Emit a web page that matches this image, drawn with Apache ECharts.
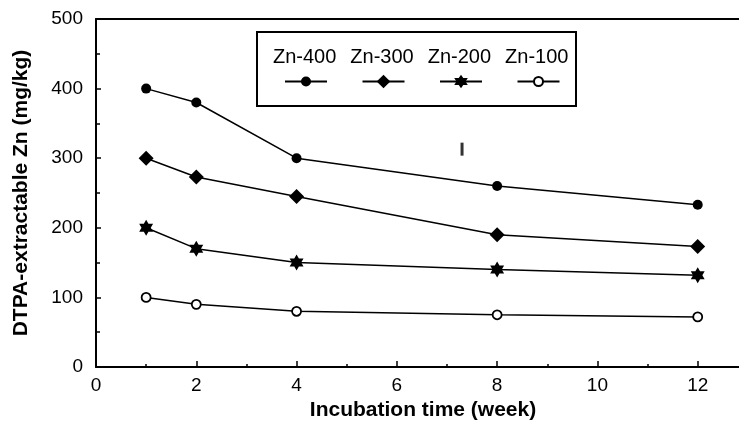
<!DOCTYPE html>
<html>
<head>
<meta charset="utf-8">
<script src="https://cdn.jsdelivr.net/npm/echarts@6.0.0/dist/echarts.min.js"></script>
<style>
  html, body { margin: 0; padding: 0; background: #fff; }
  #chart { width: 739px; height: 421px; }
</style>
</head>
<body>
<div id="chart"></div>
<script>
// incubation weeks (x) and DTPA-extractable Zn (mg/kg) per treatment
var weeks = [1, 2, 4, 8, 12];
var zn400 = [400, 380, 300, 260, 233];
var zn300 = [300, 273, 245, 190, 173];
var zn200 = [200, 170, 150, 140, 132];
var zn100 = [100, 90, 80, 75, 72];
var seriesNames = ["Zn-400", "Zn-300", "Zn-200", "Zn-100"];
// stray vertical mark in the plot area
var strayMark = [[7.3, 313]];

var FONT = "'Liberation Sans', Arial, sans-serif";
var starPath = "path://M100 0 L129 50 L187 50 L158 100 L187 150 L129 150 L100 200 L71 150 L13 150 L42 100 L13 50 L71 50 Z";
// circles padded with empty moves so the legend icon comes out smaller
var dotPath = "path://M0 0 M136 136 M18 68 A50 50 0 1 0 118 68 A50 50 0 1 0 18 68 Z";
var ringPath = "path://M0 0 M151 151 M25.5 75.5 A50 50 0 1 0 125.5 75.5 A50 50 0 1 0 25.5 75.5 Z";

function pairs(ys) {
  return weeks.map(function (w, i) { return [w, ys[i]]; });
}

function lineSeries(name, ys, symbol, size, hollow) {
  return {
    name: name,
    type: "line",
    data: pairs(ys),
    symbol: symbol,
    symbolSize: size,
    symbolKeepAspect: true,
    lineStyle: { color: "#000", width: 1.5 },
    itemStyle: hollow
      ? { color: "#fff", borderColor: "#000", borderWidth: 1.8 }
      : { color: "#000", borderColor: "#000", borderWidth: 0 },
    emphasis: { disabled: true },
    animation: false
  };
}

var chart = echarts.init(document.getElementById("chart"));
chart.setOption({
  backgroundColor: "#fff",
  animation: false,
  textStyle: { fontFamily: FONT },
  grid: { left: 96, right: -59, top: 19, bottom: 54, outerBoundsMode: "none", containLabel: false },
  graphic: [{
    type: "rect",
    shape: { x: 257, y: 32, width: 319, height: 74 },
    style: { fill: "none", stroke: "#000", lineWidth: 2 },
    z: 10
  }],
  legend: [{
    data: seriesNames,
    left: 284,
    top: 73,
    padding: 0,
    itemWidth: 42,
    itemHeight: 17,
    itemGap: 33.5,
    selectedMode: false,
    formatter: function () { return ""; },
    textStyle: { fontSize: 1 }
  }, {
    data: seriesNames,
    icon: "none",
    left: 268,
    top: 47,
    padding: 0,
    itemWidth: 0,
    itemHeight: 0,
    itemGap: 9,
    selectedMode: false,
    textStyle: { fontSize: 20, color: "#000", fontFamily: FONT }
  }],
  xAxis: [{
    type: "value",
    min: 0,
    max: 14,
    interval: 2,
    name: "Incubation time (week)",
    nameLocation: "middle",
    nameGap: 33,
    nameTextStyle: { fontSize: 21, fontWeight: "bold", color: "#000", fontFamily: FONT, padding: [0, 48, 0, 0] },
    axisLine: { lineStyle: { color: "#000", width: 2 } },
    axisTick: { inside: true, length: 6, lineStyle: { color: "#000", width: 1.5 } },
    minorTick: { show: true, splitNumber: 2, length: 3, lineStyle: { color: "#000", width: 1.5 } },
    axisLabel: { fontSize: 19, color: "#000", margin: 9, fontFamily: FONT },
    splitLine: { show: false }
  }, {
    type: "value",
    position: "top",
    min: 0,
    max: 14,
    axisLine: { show: true, lineStyle: { color: "#000", width: 2 } },
    axisTick: { show: false },
    axisLabel: { show: false },
    splitLine: { show: false }
  }],
  yAxis: {
    type: "value",
    min: 0,
    max: 500,
    interval: 100,
    name: "DTPA-extractable Zn (mg/kg)",
    nameLocation: "middle",
    nameGap: 64,
    nameTextStyle: { fontSize: 21, fontWeight: "bold", color: "#000", fontFamily: FONT },
    axisLine: { show: true, lineStyle: { color: "#000", width: 2 } },
    axisTick: { inside: true, length: 5, lineStyle: { color: "#000", width: 1.5 } },
    minorTick: { show: true, splitNumber: 2, length: 4, lineStyle: { color: "#000", width: 1.5 } },
    axisLabel: { fontSize: 19, color: "#000", margin: 13, fontFamily: FONT },
    splitLine: { show: false }
  },
  series: [
    lineSeries("Zn-400", zn400, dotPath, 13.6, false),
    lineSeries("Zn-300", zn300, "diamond", 15, false),
    lineSeries("Zn-200", zn200, starPath, 16, false),
    lineSeries("Zn-100", zn100, ringPath, 13.6, true),
    {
      name: "mark",
      type: "scatter",
      data: strayMark,
      symbol: "rect",
      symbolSize: [3, 13],
      itemStyle: { color: "#000" },
      emphasis: { disabled: true },
      silent: true
    }
  ]
});
</script>
</body>
</html>
